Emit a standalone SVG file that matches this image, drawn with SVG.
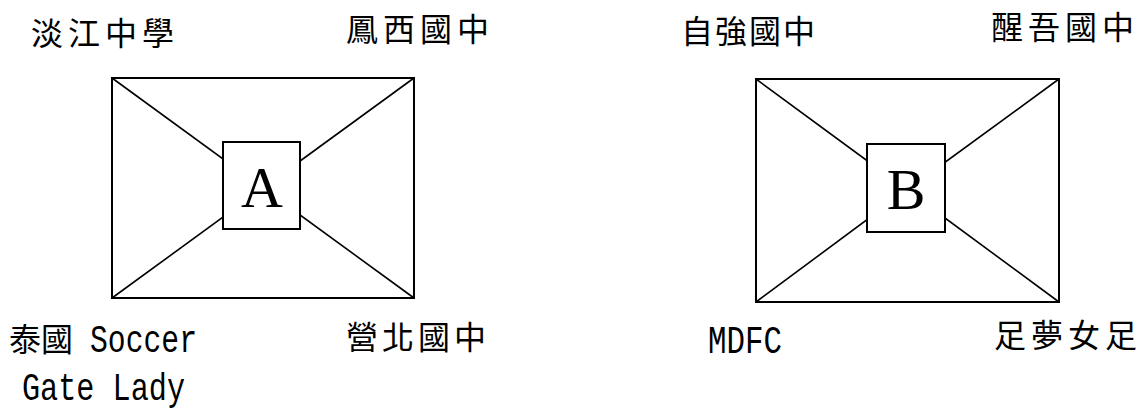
<svg xmlns="http://www.w3.org/2000/svg" width="1143" height="410" viewBox="0 0 1143 410">
<style>
.frame{fill:none;stroke:#000;stroke-width:2}
.diag{stroke:#000;stroke-width:1.6}
.box{fill:#fff;stroke:#000;stroke-width:2}
.cjk{font-family:"Noto Sans CJK TC","Noto Sans CJK SC",sans-serif;font-size:32px;fill:#000}
.lat{font-family:"Liberation Mono",monospace;font-size:38px;fill:#000}
.big{font-family:"Liberation Serif",serif;font-size:58px;fill:#000;text-anchor:middle}
</style>
<rect width="1143" height="410" fill="#fff"/>
<g id="connectors">
<rect class="frame" x="112" y="78" width="302" height="220"/>
<line class="diag" x1="112" y1="78" x2="263" y2="188"/>
<line class="diag" x1="414" y1="78" x2="263" y2="188"/>
<line class="diag" x1="112" y1="298" x2="263" y2="188"/>
<line class="diag" x1="414" y1="298" x2="263" y2="188"/>
<rect class="frame" x="756" y="79" width="303" height="223"/>
<line class="diag" x1="756" y1="79" x2="907" y2="190"/>
<line class="diag" x1="1059" y1="79" x2="907" y2="190"/>
<line class="diag" x1="756" y1="302" x2="907" y2="190"/>
<line class="diag" x1="1059" y1="302" x2="907" y2="190"/>
</g>
<g id="nodeA">
<rect class="box" x="223" y="142" width="77" height="87"/>
<text class="big" x="262" y="207">A</text>
</g>
<g id="nodeB">
<rect class="box" x="867" y="144" width="78" height="88"/>
<text class="big" x="906" y="209">B</text>
</g>
<g id="label-tamkang"><text class="cjk" x="31 68 105 142" y="45">淡江中學</text></g>
<g id="label-fengxi"><text class="cjk" x="346 383 420 457" y="41">鳳西國中</text></g>
<g id="label-ziqiang"><text class="cjk" x="681 715 749 783" y="43">自強國中</text></g>
<g id="label-xingwu"><text class="cjk" x="991 1028 1065 1102" y="39">醒吾國中</text></g>
<g id="label-thai">
<text class="cjk" x="9 41" y="351">泰國</text>
<text class="lat" x="90" y="352" textLength="107" lengthAdjust="spacingAndGlyphs">Soccer</text>
<text class="lat" x="22" y="400" textLength="163" lengthAdjust="spacingAndGlyphs">Gate Lady</text>
</g>
<g id="label-yingbei"><text class="cjk" x="346 382 418 454" y="349">營北國中</text></g>
<g id="label-mdfc"><text class="lat" x="708" y="353" textLength="74" lengthAdjust="spacingAndGlyphs">MDFC</text></g>
<g id="label-zumeng"><text class="cjk" x="994 1031 1068 1105" y="347">足夢女足</text></g>
</svg>
